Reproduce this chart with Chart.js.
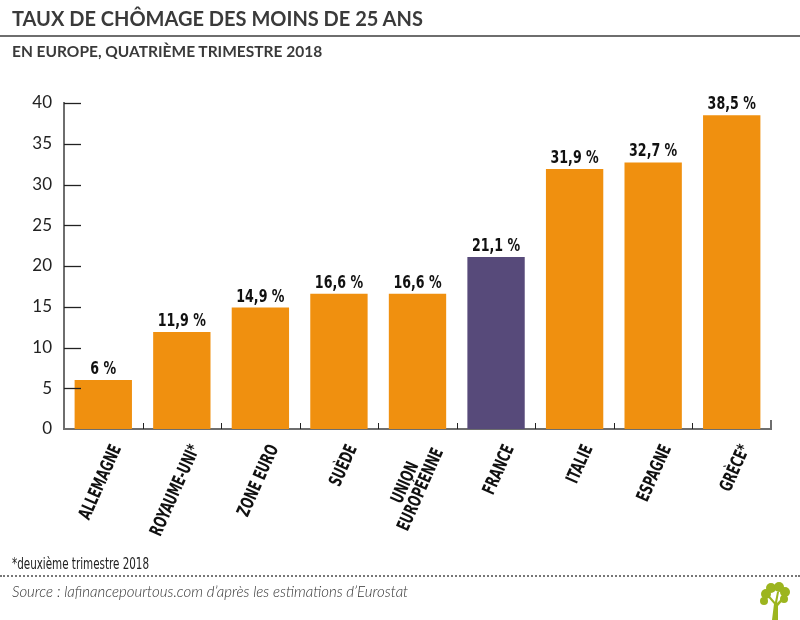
<!DOCTYPE html>
<html>
<head>
<meta charset="utf-8">
<script src="https://cdn.jsdelivr.net/npm/chart.js@4.4.1/dist/chart.umd.min.js"></script>
<style>
  html, body { margin:0; padding:0; background:#fff; }
  #wrap { position:relative; width:800px; height:620px; overflow:hidden; }
  #c { position:absolute; left:0; top:0; }
  .txt { position:absolute; white-space:nowrap; color:#333; }
  #title { left:12px; top:6px; font-family:Lato, sans-serif; font-weight:700; font-size:20px; color:#3a3a3a; }
  #rule { position:absolute; left:0; top:35px; width:800px; height:0; border-top:2px solid #6e6e6e; }
  #sub { left:12px; top:42px; font-family:Lato, sans-serif; font-weight:700; font-size:15.5px; color:#3a3a3a; }
  #note { left:12px; top:554px; font-family:"DejaVu Sans Condensed",sans-serif; font-size:16px; color:#222; transform:scaleX(0.72); transform-origin:0 0; }
  #dots { position:absolute; left:0; top:575px; width:800px; height:0; border-top:2px dotted #777; }
  #src { left:12px; top:582px; font-family:Lato, sans-serif; font-style:italic; font-weight:300; font-size:15px; color:#333; }
  #logo { position:absolute; left:757px; top:582px; }
</style>
</head>
<body>
<div id="wrap">
  <canvas id="c" width="800" height="620"></canvas>
  <div class="txt" id="title">TAUX DE CHÔMAGE DES MOINS DE 25 ANS</div>
  <div id="rule"></div>
  <div class="txt" id="sub">EN EUROPE, QUATRIÈME TRIMESTRE 2018</div>
  <div class="txt" id="note">*deuxième trimestre 2018</div>
  <div id="dots"></div>
  <div class="txt" id="src">Source : lafinancepourtous.com d’après les estimations d’Eurostat</div>
  <svg id="logo" width="36" height="38" viewBox="0 0 36 38">
    <g fill="#9cb51f">
      <path d="M15 38 L17 22 L10 14 L12 13 L18 20 L20 10 L22 10 L20 21 L27 14 L28 16 L21 24 L21 38 Z"/>
      <circle cx="9" cy="12" r="5"/>
      <circle cx="14" cy="6" r="5"/>
      <circle cx="22" cy="5" r="5"/>
      <circle cx="28" cy="10" r="5"/>
      <circle cx="27" cy="17" r="4"/>
      <circle cx="7" cy="19" r="4"/>
    </g>
  </svg>
</div>
<script>
const categories = ["ALLEMAGNE", "ROYAUME-UNI*", "ZONE EURO", "SUÈDE", ["UNION", "EUROPÉENNE"], "FRANCE", "ITALIE", "ESPAGNE", "GRÈCE*"];
const values = [6, 11.9, 14.9, 16.6, 16.6, 21.1, 31.9, 32.7, 38.5];
const highlightIndex = 5;
const yTicks = [0, 5, 10, 15, 20, 25, 30, 35, 40];

const ORANGE = "#f0900f";
const PURPLE = "#574a7a";
const NARROW = '"DejaVu Sans Condensed",sans-serif';

const decor = {
  id: "decor",
  afterDatasetsDraw(chart) {
    const ctx = chart.ctx;
    const area = chart.chartArea;
    const xs = chart.scales.x, ys = chart.scales.y;
    ctx.save();
    // y tick marks inside
    ctx.strokeStyle = "#222";
    ctx.lineWidth = 1.3;
    yTicks.forEach(v => {
      if (v === 0) return;
      const y = Math.round(ys.getPixelForValue(v)) + 0.5;
      ctx.beginPath();
      ctx.moveTo(area.left, y);
      ctx.lineTo(area.left + 17, y);
      ctx.stroke();
    });
    // category separators
    ctx.lineWidth = 1;
    for (let i = 0; i < categories.length - 1; i++) {
      const x = Math.round((xs.getPixelForValue(i) + xs.getPixelForValue(i + 1)) / 2) + 0.5;
      ctx.beginPath();
      ctx.moveTo(x, area.bottom - 6);
      ctx.lineTo(x, area.bottom);
      ctx.stroke();
    }
    // right end mark
    ctx.strokeStyle = "#6e6e6e";
    ctx.lineWidth = 2;
    ctx.beginPath();
    ctx.moveTo(area.right, area.bottom - 9);
    ctx.lineTo(area.right, area.bottom + 1);
    ctx.stroke();
    // value labels (condensed)
    const meta = chart.getDatasetMeta(0);
    ctx.fillStyle = "#111";
    ctx.font = 'bold 18px ' + NARROW;
    ctx.textAlign = "center";
    ctx.textBaseline = "alphabetic";
    meta.data.forEach((bar, i) => {
      const label = String(values[i]).replace(".", ",") + " %";
      ctx.save();
      ctx.translate(bar.x, bar.y - 6);
      ctx.scale(0.78, 1);
      ctx.fillText(label, 0, 0);
      ctx.restore();
    });
    // rotated category labels (condensed)
    const angle = 66 * Math.PI / 180;
    const sx = 0.72;
    const lh = 17;
    ctx.font = 'bold 18px ' + NARROW;
    ctx.textBaseline = "middle";
    categories.forEach((cat, i) => {
      const lines = Array.isArray(cat) ? cat : [cat];
      const x0 = xs.getPixelForValue(i) + 14;
      const y0 = area.bottom + 17;
      ctx.save();
      ctx.translate(x0, y0);
      ctx.rotate(-angle);
      ctx.scale(sx, 1);
      if (lines.length === 1) {
        ctx.textAlign = "right";
        ctx.fillText(lines[0], 0, 0);
      } else {
        const maxW = Math.max(...lines.map(l => ctx.measureText(l).width));
        ctx.textAlign = "center";
        lines.forEach((l, k) => {
          ctx.fillText(l, -maxW / 2, (k - (lines.length - 1) / 2) * lh);
        });
      }
      ctx.restore();
    });
    ctx.restore();
  }
};

new Chart(document.getElementById("c"), {
  type: "bar",
  data: {
    labels: categories,
    datasets: [{
      data: values,
      backgroundColor: values.map((v, i) => i === highlightIndex ? PURPLE : ORANGE),
      borderWidth: 0,
      barPercentage: 0.73,
      categoryPercentage: 1
    }]
  },
  options: {
    responsive: false,
    animation: false,
    events: [],
    layout: { padding: { top: 103, right: 29, left: 0, bottom: 0 } },
    plugins: { legend: { display: false }, tooltip: { enabled: false }, title: { display: false } },
    scales: {
      x: {
        grid: { display: false, drawTicks: false },
        border: { display: true, color: "#6e6e6e", width: 2 },
        ticks: { display: false },
        afterFit(scale) { scale.height = 191; }
      },
      y: {
        min: 0,
        max: 40,
        grid: { display: false, drawTicks: false },
        border: { display: true, color: "#6e6e6e", width: 2 },
        afterBuildTicks(scale) { scale.ticks = yTicks.map(v => ({ value: v })); },
        ticks: {
          padding: 12,
          color: "#222",
          font: { family: "Lato, sans-serif", size: 17 }
        },
        afterFit(scale) { scale.width = 64; }
      }
    }
  },
  plugins: [decor]
});
</script>
</body>
</html>
